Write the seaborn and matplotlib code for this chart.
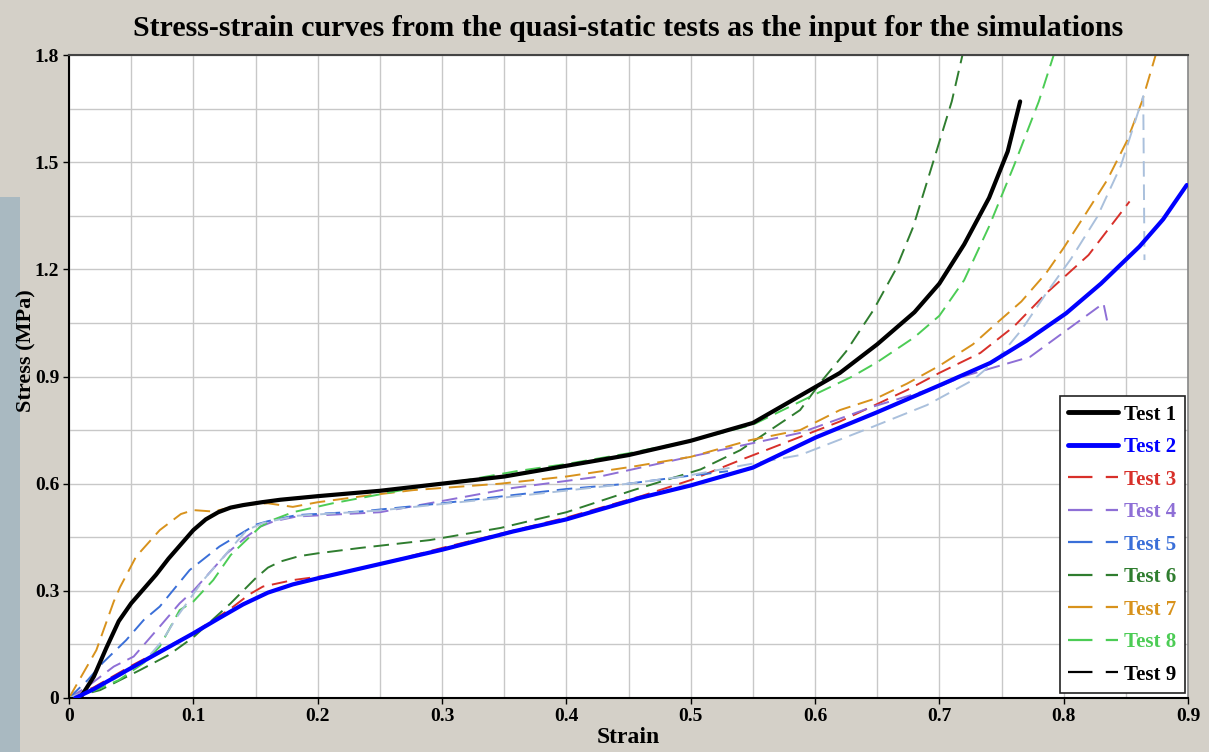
import numpy as np
import pandas as pd
import matplotlib
matplotlib.use("Agg")
import matplotlib.pyplot as plt
from matplotlib.lines import Line2D
from matplotlib.patches import Rectangle
import seaborn as sns

# datos (deformacion, tension en MPa)
t1_x = [0.009, 0.02, 0.03, 0.04, 0.05, 0.06, 0.07, 0.08, 0.09, 0.1, 0.11, 0.12, 0.13, 0.14, 0.155, 0.17, 0.2, 0.25, 0.3, 0.35, 0.4, 0.45, 0.5, 0.55, 0.6, 0.62, 0.65, 0.68, 0.7, 0.72, 0.74, 0.755, 0.765]
t1_y = [0.0, 0.06, 0.14, 0.215, 0.265, 0.305, 0.345, 0.39, 0.43, 0.47, 0.50, 0.52, 0.533, 0.54, 0.548, 0.555, 0.565, 0.58, 0.60, 0.62, 0.65, 0.68, 0.72, 0.77, 0.87, 0.91, 0.99, 1.08, 1.16, 1.27, 1.40, 1.53, 1.67]

t2_x = [0.005, 0.02, 0.052, 0.1, 0.12, 0.14, 0.16, 0.18, 0.2, 0.25, 0.3, 0.357, 0.4, 0.459, 0.5, 0.55, 0.601, 0.65, 0.7, 0.741, 0.77, 0.802, 0.83, 0.861, 0.88, 0.899]
t2_y = [0.0, 0.025, 0.088, 0.181, 0.222, 0.262, 0.295, 0.318, 0.335, 0.375, 0.415, 0.466, 0.50, 0.56, 0.595, 0.645, 0.73, 0.80, 0.875, 0.938, 1.0, 1.077, 1.16, 1.264, 1.34, 1.436]

t3_x = [0.0, 0.02, 0.05, 0.1, 0.13, 0.145, 0.156, 0.18, 0.21, 0.25, 0.3, 0.4, 0.46, 0.5, 0.54, 0.58, 0.62, 0.674, 0.7, 0.733, 0.76, 0.786, 0.82, 0.853]
t3_y = [0.0, 0.03, 0.09, 0.182, 0.25, 0.29, 0.312, 0.33, 0.344, 0.375, 0.42, 0.505, 0.565, 0.61, 0.666, 0.72, 0.774, 0.862, 0.91, 0.966, 1.04, 1.133, 1.24, 1.39]

t4_x = [0.0, 0.014, 0.036, 0.052, 0.073, 0.089, 0.1, 0.127, 0.143, 0.154, 0.165, 0.183, 0.25, 0.304, 0.357, 0.427, 0.524, 0.588, 0.647, 0.70, 0.719, 0.773, 0.832, 0.835]
t4_y = [0.0, 0.03, 0.088, 0.116, 0.20, 0.265, 0.30, 0.405, 0.452, 0.48, 0.495, 0.508, 0.52, 0.554, 0.588, 0.62, 0.694, 0.742, 0.816, 0.872, 0.90, 0.955, 1.105, 1.055]

t5_x = [0.0, 0.015, 0.027, 0.046, 0.06, 0.073, 0.097, 0.121, 0.143, 0.15, 0.16, 0.183, 0.234, 0.3, 0.357, 0.4, 0.45, 0.494, 0.53]
t5_y = [0.0, 0.05, 0.098, 0.162, 0.218, 0.256, 0.358, 0.424, 0.47, 0.485, 0.495, 0.512, 0.522, 0.545, 0.568, 0.585, 0.60, 0.62, 0.635]

t6_x = [0.0, 0.025, 0.057, 0.08, 0.1, 0.13, 0.15, 0.16, 0.17, 0.185, 0.2, 0.234, 0.29, 0.347, 0.4, 0.454, 0.508, 0.54, 0.588, 0.606, 0.625, 0.647, 0.665, 0.679, 0.698, 0.71, 0.719]
t6_y = [0.0, 0.022, 0.078, 0.12, 0.17, 0.265, 0.335, 0.365, 0.382, 0.397, 0.405, 0.42, 0.442, 0.476, 0.52, 0.582, 0.64, 0.694, 0.806, 0.89, 0.97, 1.086, 1.2, 1.319, 1.534, 1.67, 1.806]

t7_x = [0.0, 0.022, 0.036, 0.041, 0.054, 0.073, 0.09, 0.1, 0.116, 0.1375, 0.16, 0.18, 0.2, 0.234, 0.277, 0.347, 0.4, 0.454, 0.5, 0.548, 0.588, 0.62, 0.65, 0.674, 0.7, 0.727, 0.746, 0.766, 0.786, 0.8, 0.818, 0.835, 0.851, 0.863, 0.874]
t7_y = [0.0, 0.134, 0.27, 0.31, 0.396, 0.47, 0.515, 0.526, 0.522, 0.54, 0.545, 0.535, 0.548, 0.564, 0.582, 0.60, 0.62, 0.648, 0.675, 0.722, 0.75, 0.806, 0.84, 0.88, 0.93, 0.99, 1.049, 1.11, 1.19, 1.26, 1.357, 1.45, 1.56, 1.67, 1.80]

t8_x = [0.0, 0.02, 0.04, 0.06, 0.073, 0.089, 0.1, 0.116, 0.13, 0.154, 0.165, 0.18, 0.212, 0.25, 0.28, 0.32, 0.36, 0.4, 0.45, 0.5, 0.55, 0.6, 0.63, 0.65, 0.68, 0.7, 0.72, 0.74, 0.76, 0.78, 0.792]
t8_y = [0.0, 0.02, 0.05, 0.098, 0.144, 0.246, 0.27, 0.33, 0.40, 0.48, 0.50, 0.52, 0.545, 0.57, 0.59, 0.61, 0.635, 0.655, 0.685, 0.72, 0.765, 0.85, 0.90, 0.94, 1.01, 1.07, 1.17, 1.32, 1.49, 1.67, 1.80]

t9_x = [0.0, 0.03, 0.06, 0.075, 0.087, 0.108, 0.143, 0.156, 0.183, 0.25, 0.347, 0.45, 0.494, 0.54, 0.588, 0.647, 0.69, 0.727, 0.746, 0.766, 0.786, 0.806, 0.827, 0.846, 0.864, 0.865]
t9_y = [0.0, 0.04, 0.1, 0.16, 0.228, 0.33, 0.47, 0.49, 0.51, 0.525, 0.56, 0.60, 0.62, 0.65, 0.68, 0.76, 0.82, 0.89, 0.946, 1.03, 1.133, 1.23, 1.347, 1.49, 1.685, 1.226]

series_names = ["Test 1", "Test 2", "Test 3", "Test 4", "Test 5", "Test 6", "Test 7", "Test 8", "Test 9"]
series_x = [t1_x, t2_x, t3_x, t4_x, t5_x, t6_x, t7_x, t8_x, t9_x]
series_y = [t1_y, t2_y, t3_y, t4_y, t5_y, t6_y, t7_y, t8_y, t9_y]

# colores: linea en el grafico y en la leyenda (Test 9 sale distinto)
line_colors = ["#000000", "#0000ff", "#d8302a", "#8e6fd6", "#3a6fd8", "#2f7d2f", "#d8921c", "#4ccc55", "#aac0dc"]
legend_colors = ["#000000", "#0000ff", "#d8302a", "#8e6fd6", "#3a6fd8", "#2f7d2f", "#d8921c", "#4ccc55", "#000000"]

x_ticks = [0, 0.1, 0.2, 0.3, 0.4, 0.5, 0.6, 0.7, 0.8, 0.9]
x_tick_labels = ["0", "0.1", "0.2", "0.3", "0.4", "0.5", "0.6", "0.7", "0.8", "0.9"]
y_ticks = [0, 0.3, 0.6, 0.9, 1.2, 1.5, 1.8]
y_tick_labels = ["0", "0.3", "0.6", "0.9", "1.2", "1.5", "1.8"]

# --- estilo ---
sns.set_style("whitegrid")
plt.rcParams["font.family"] = ["Liberation Serif", "DejaVu Serif"]
plt.rcParams["font.weight"] = "bold"
plt.rcParams["text.color"] = "black"
plt.rcParams["axes.labelcolor"] = "black"
plt.rcParams["xtick.color"] = "black"
plt.rcParams["ytick.color"] = "black"

BG = "#d4d0c8"
fig = plt.figure(figsize=(12.09, 7.52), dpi=100, facecolor=BG)
ax = fig.add_axes([69 / 1209, 1 - 698 / 752, 1119 / 1209, 643 / 752])
ax.set_facecolor("white")

# franja de foto a la izquierda
fig.patches.append(Rectangle((0, 0), 20 / 1209, 1 - 197 / 752, transform=fig.transFigure,
                             facecolor="#a9b9c1", edgecolor="none", zorder=-5))

rows = []
for name, xs, ys in zip(series_names, series_x, series_y):
    for i, (a, b) in enumerate(zip(xs, ys)):
        rows.append({"serie": name, "orden": i, "Strain": a, "Stress": b})
df = pd.DataFrame(rows)

for k, name in enumerate(series_names):
    sub = df[df["serie"] == name]
    solid = k < 2
    sns.lineplot(data=sub, x="Strain", y="Stress", sort=False, estimator=None,
                 color=line_colors[k], linewidth=3.0 if solid else 1.4,
                 linestyle="-" if solid else (0, (8, 4)), ax=ax, legend=False,
                 zorder=3 if solid else 2)

ax.set_xlim(0, 0.9)
ax.set_ylim(0, 1.8)
ax.set_xticks(x_ticks)
ax.set_xticklabels(x_tick_labels)
ax.set_yticks(y_ticks)
ax.set_yticklabels(y_tick_labels)
ax.set_xticks(np.arange(0.05, 0.9, 0.1), minor=True)
ax.set_yticks(np.arange(0.15, 1.8, 0.3), minor=True)
ax.grid(True, which="both", color="#c8c8c8", linewidth=1.0)
ax.tick_params(axis="both", which="major", direction="out", length=4, width=1,
               color="black", labelsize=14, pad=3, left=True, bottom=True)
ax.tick_params(axis="both", which="minor", length=0)
for lbl in ax.get_xticklabels() + ax.get_yticklabels():
    lbl.set_fontweight("bold")

for side in ["left", "bottom"]:
    ax.spines[side].set_color("black")
    ax.spines[side].set_linewidth(1.5)
ax.spines["top"].set_color("#444444")
ax.spines["top"].set_linewidth(1.5)
ax.spines["right"].set_color("#888888")
ax.spines["right"].set_linewidth(1.2)

ax.set_xlabel("Strain", fontsize=17, fontweight="bold")
ax.set_ylabel("Stress (MPa)", fontsize=16, fontweight="bold")
ax.xaxis.set_label_coords(0.5, -0.045)
ax.yaxis.set_label_coords(-0.029, 0.54)
fig.text(628 / 1209, 1 - 28 / 752,
         "Stress-strain curves from the quasi-static tests as the input for the simulations",
         ha="center", va="center", fontsize=21.5, fontweight="bold")

handles = []
for k, name in enumerate(series_names):
    solid = k < 2
    handles.append(Line2D([0], [0], color=legend_colors[k], linewidth=3.5 if solid else 1.6,
                          linestyle="-" if solid else (0, (11, 6))))
leg = ax.legend(handles, series_names, loc="lower right", bbox_to_anchor=(0.9973, 0.008),
                borderaxespad=0, frameon=True, fancybox=False, framealpha=1,
                edgecolor="#222222", facecolor="white",
                handlelength=2.4, handletextpad=0.3, labelspacing=0.6,
                borderpad=0.4, prop={"weight": "bold", "size": 15})
leg.get_frame().set_linewidth(1.2)
for txt, c in zip(leg.get_texts(), legend_colors):
    txt.set_color(c)

fig.savefig("out.png", dpi=100, facecolor=BG)
